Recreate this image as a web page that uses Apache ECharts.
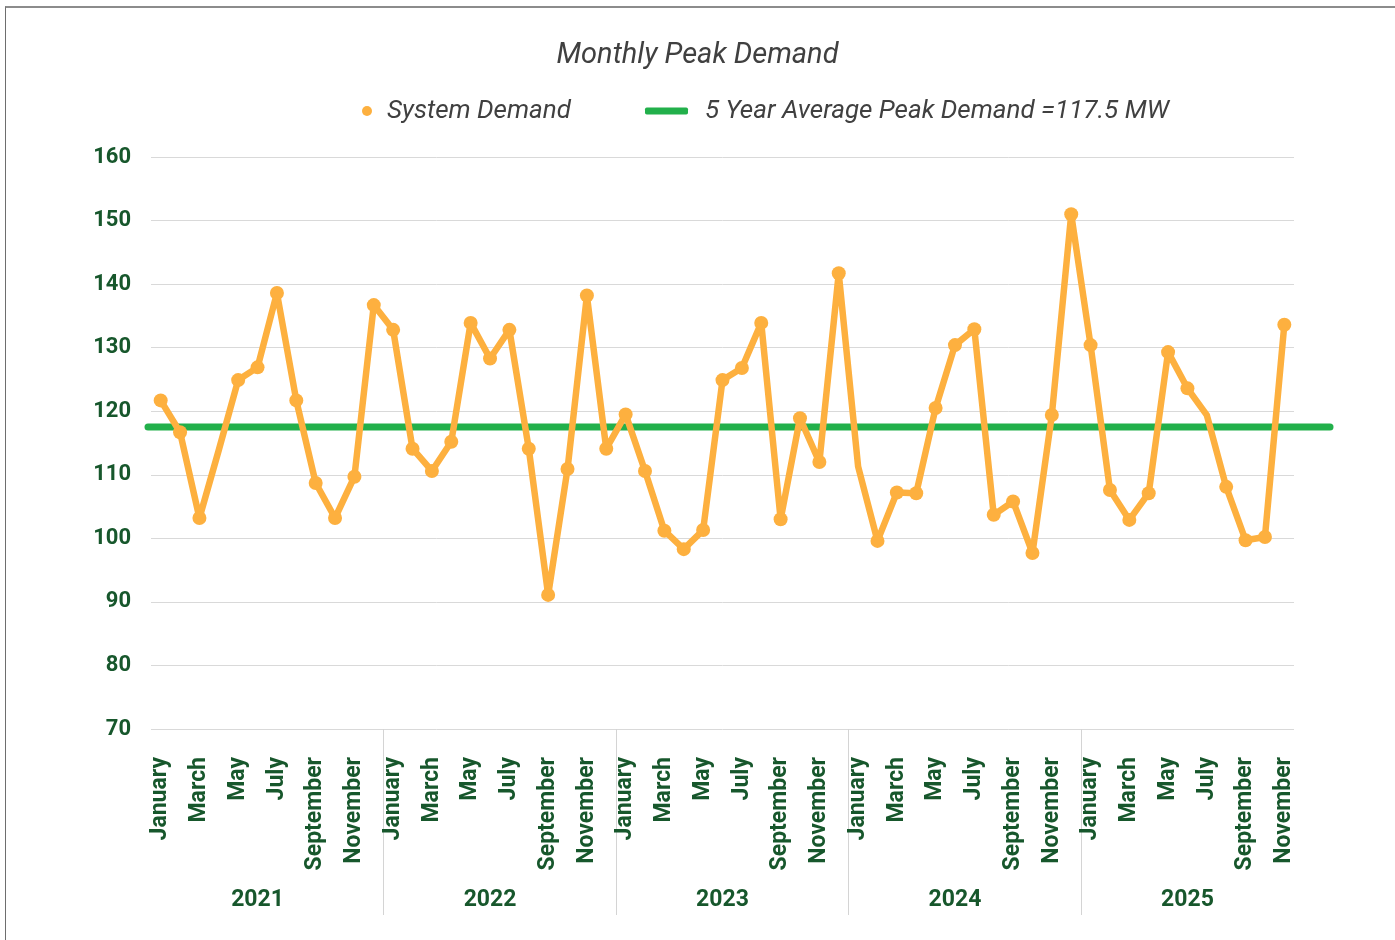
<!DOCTYPE html>
<html>
<head>
<meta charset="utf-8">
<title>Monthly Peak Demand</title>
<script src="https://cdn.jsdelivr.net/npm/echarts@6/dist/echarts.min.js"></script>
<style>
    html, body { margin: 0; padding: 0; background: #fff; }
    #container { width: 1395px; height: 940px; }
    #frame {
        position: absolute; left: 5px; top: 6px; width: 1400px; height: 940px;
        border-top: 2px solid #8c8c8c; border-left: 1px solid #6e6e6e;
        pointer-events: none;
    }
</style>
</head>
<body>
<div id="container"></div>
<div id="frame"></div>
<script>
// 年份和月份
var years = ['2021', '2022', '2023', '2024', '2025'];
var monthNames = ['January', 'February', 'March', 'April', 'May', 'June',
    'July', 'August', 'September', 'October', 'November', 'December'];

// 每月峰值 (MW)
var demand2021 = [121.7, 116.7, 103.2, 113.9, 124.9, 126.9, 138.6, 121.7, 108.7, 103.2, 109.7, 136.7];
var demand2022 = [132.8, 114.1, 110.6, 115.2, 133.9, 128.3, 132.8, 114.1, 91.1, 110.9, 138.2, 114.1];
var demand2023 = [119.5, 110.6, 101.2, 98.3, 101.3, 124.9, 126.8, 133.9, 103.0, 118.9, 112.0, 141.7];
var demand2024 = [111.3, 99.6, 107.2, 107.1, 120.5, 130.4, 132.9, 103.7, 105.8, 97.7, 119.4, 151.0];
var demand2025 = [130.4, 107.6, 102.9, 107.1, 129.3, 123.6, 119.4, 108.1, 99.7, 100.2, 133.6];

// 五年平均峰值
var averagePeak = 117.5;

// 这几个月在原图里没有圆点
var noMarker = [3, 36, 54];

var yTicks = { min: 70, max: 160, step: 10 };

var darkGreen = '#17572c';
var orange = '#fdb03f';
var green = '#22b04b';

// 拼出类目和数据
var allYears = [demand2021, demand2022, demand2023, demand2024, demand2025];
var categories = [];
var demand = [];
allYears.forEach(function(values, y) {
    values.forEach(function(v, m) {
        categories.push(years[y] + '-' + (m + 1));
        demand.push(v);
    });
});

// 月份之间的分界点（比月份多一个），用来画年份分隔线
var boundaries = categories.map(function(c) { return c + '|'; });
boundaries.push('end|');

var demandData = demand.map(function(v, i) {
    if (noMarker.indexOf(i) >= 0) {
        return { value: v, symbol: 'none' };
    }
    return v;
});

var legendText = {
    fontSize: 26, fontStyle: 'italic', color: '#404040', lineHeight: 30
};

var option = {
    animation: false,
    textStyle: { fontFamily: 'Roboto' },
    title: {
        text: 'Monthly Peak Demand',
        left: 'center',
        top: 36,
        textStyle: {
            fontFamily: 'Roboto',
            fontSize: 29,
            fontStyle: 'italic',
            fontWeight: 'normal',
            color: '#404040'
        }
    },
    legend: [{
        data: ['System Demand'],
        left: 357,
        top: 91,
        icon: 'circle',
        itemWidth: 10,
        itemHeight: 10,
        textStyle: Object.assign({ padding: [0, 0, 0, 10] }, legendText)
    }, {
        data: ['5 Year Average Peak Demand =117.5 MW'],
        left: 640,
        top: 91,
        icon: 'roundRect',
        itemWidth: 43,
        itemHeight: 7,
        textStyle: Object.assign({ padding: [0, 0, 0, 12] }, legendText)
    }],
    grid: [
        { left: 151, right: 101, top: 157, bottom: 211 },
        { left: 148, right: 65, top: 157, bottom: 211 }
    ],
    xAxis: [{
        // 月份
        type: 'category',
        gridIndex: 0,
        data: categories,
        axisLine: { show: false },
        axisTick: { show: false },
        axisLabel: {
            interval: 1,
            rotate: 90,
            margin: 28,
            fontSize: 23,
            fontWeight: 'bold',
            color: darkGreen,
            formatter: function(value) {
                return monthNames[parseInt(value.split('-')[1], 10) - 1];
            }
        }
    }, {
        // 年份
        type: 'category',
        gridIndex: 0,
        position: 'bottom',
        data: categories,
        axisLine: { show: false },
        axisTick: { show: false },
        axisLabel: {
            interval: function(index) { return index % 12 === 5; },
            margin: 160,
            fontSize: 23,
            fontWeight: 'bold',
            color: darkGreen,
            verticalAlign: 'top',
            formatter: function(value) { return value.split('-')[0]; }
        }
    }, {
        // 年份分隔线
        type: 'category',
        gridIndex: 0,
        position: 'bottom',
        boundaryGap: false,
        data: boundaries,
        axisLine: { show: false },
        axisLabel: { show: false },
        axisTick: {
            show: true,
            length: 186,
            interval: function(index) { return index > 0 && index % 12 === 0; },
            lineStyle: { color: '#d4d4d4', width: 1 }
        }
    }, {
        type: 'value',
        gridIndex: 1,
        min: 0,
        max: 1,
        show: false
    }],
    yAxis: [{
        type: 'value',
        gridIndex: 0,
        min: yTicks.min,
        max: yTicks.max,
        interval: yTicks.step,
        axisLine: { show: false },
        axisTick: { show: false },
        axisLabel: {
            margin: 20,
            fontSize: 22,
            fontWeight: 'bold',
            color: darkGreen
        },
        splitLine: { lineStyle: { color: '#d9d9d9', width: 1 } }
    }, {
        type: 'value',
        gridIndex: 1,
        min: yTicks.min,
        max: yTicks.max,
        show: false
    }],
    series: [{
        name: '5 Year Average Peak Demand =117.5 MW',
        type: 'line',
        xAxisIndex: 3,
        yAxisIndex: 1,
        data: [[0, averagePeak], [1, averagePeak]],
        symbol: 'none',
        z: 2,
        itemStyle: { color: green },
        lineStyle: { color: green, width: 7, cap: 'round' }
    }, {
        name: 'System Demand',
        type: 'line',
        xAxisIndex: 0,
        yAxisIndex: 0,
        data: demandData,
        symbol: 'circle',
        symbolSize: 14,
        showAllSymbol: true,
        z: 3,
        itemStyle: { color: orange },
        lineStyle: { color: orange, width: 6.5, join: 'round' }
    }]
};

function draw() {
    var myChart = echarts.init(document.getElementById('container'));
    myChart.setOption(option);
}

window.addEventListener("load", draw, false);
</script>
</body>
</html>
